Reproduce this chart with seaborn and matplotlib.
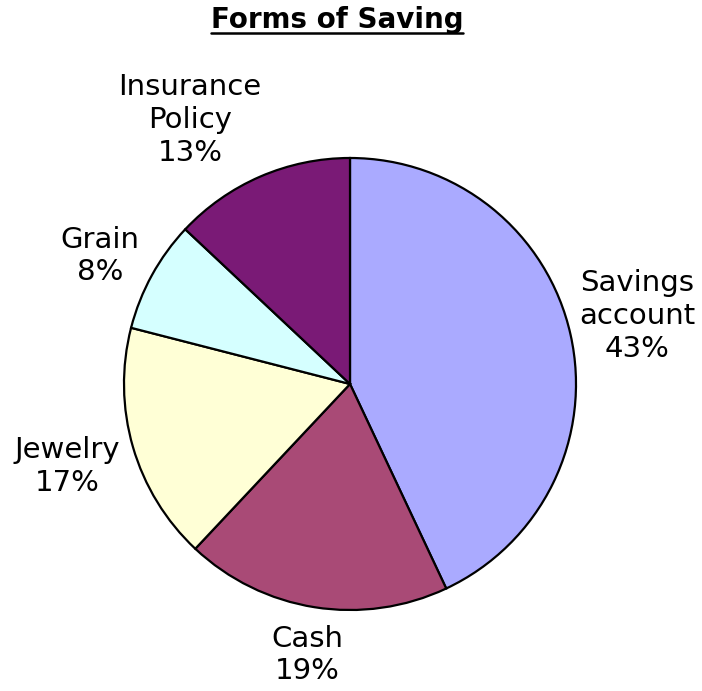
"""
Круговая диаграмма: формы сбережений
"""

import numpy as np
import matplotlib
matplotlib.use("Agg")
import matplotlib.pyplot as plt
from matplotlib.lines import Line2D
import seaborn as sns

# ── Данные ────────────────────────────────────────────────────────────────────

categories = ["Savings\naccount", "Cash", "Jewelry", "Grain", "Insurance\nPolicy"]
shares = [43, 19, 17, 8, 13]
colors = ["#AAAAFF", "#A94A76", "#FFFFD6", "#D5FFFF", "#7A1A76"]

# расстояние подписи от центра (в радиусах) и небольшой сдвиг угла
label_dist = [1.305, 1.214, 1.304, 1.243, 1.366]
label_shift = [0.7, 0.0, 0.0, 1.7, 7.8]

sns.set_style("white")
plt.rcParams["font.family"] = ["DejaVu Sans"]

W, H = 702, 691
fig = plt.figure(figsize=(W / 100, H / 100), dpi=100)

# круг: центр (350, 384), радиус 226 px
cx, cy, r = 350, 384, 226
ax = fig.add_axes([(cx - r) / W, (H - cy - r) / H, 2 * r / W, 2 * r / H])

wedges, _ = ax.pie(
    shares,
    colors=colors,
    startangle=90,
    counterclock=False,
    wedgeprops=dict(edgecolor="black", linewidth=1.6),
)
ax.set_xlim(-1, 1)
ax.set_ylim(-1, 1)
ax.set_aspect("equal")
ax.axis("off")

for w, name, val, d, s in zip(wedges, categories, shares, label_dist, label_shift):
    ang = np.deg2rad((w.theta1 + w.theta2) / 2 + s)
    ax.text(d * np.cos(ang), d * np.sin(ang), f"{name}\n{val}%",
            ha="center", va="center", fontsize=21, linespacing=1.22,
            color="black", clip_on=False)

# заголовок с подчёркиванием
title = fig.text(337 / W, 1 - 20 / H, "Forms of Saving", ha="center", va="center",
                 fontsize=20, fontweight="bold", color="black")
fig.canvas.draw()
bb = title.get_window_extent().transformed(fig.transFigure.inverted())
uy = 1 - 33 / H
fig.add_artist(Line2D([bb.x0, bb.x1], [uy, uy], color="black", linewidth=1.8,
                      transform=fig.transFigure))

fig.savefig("out.png", dpi=100, facecolor="white")
